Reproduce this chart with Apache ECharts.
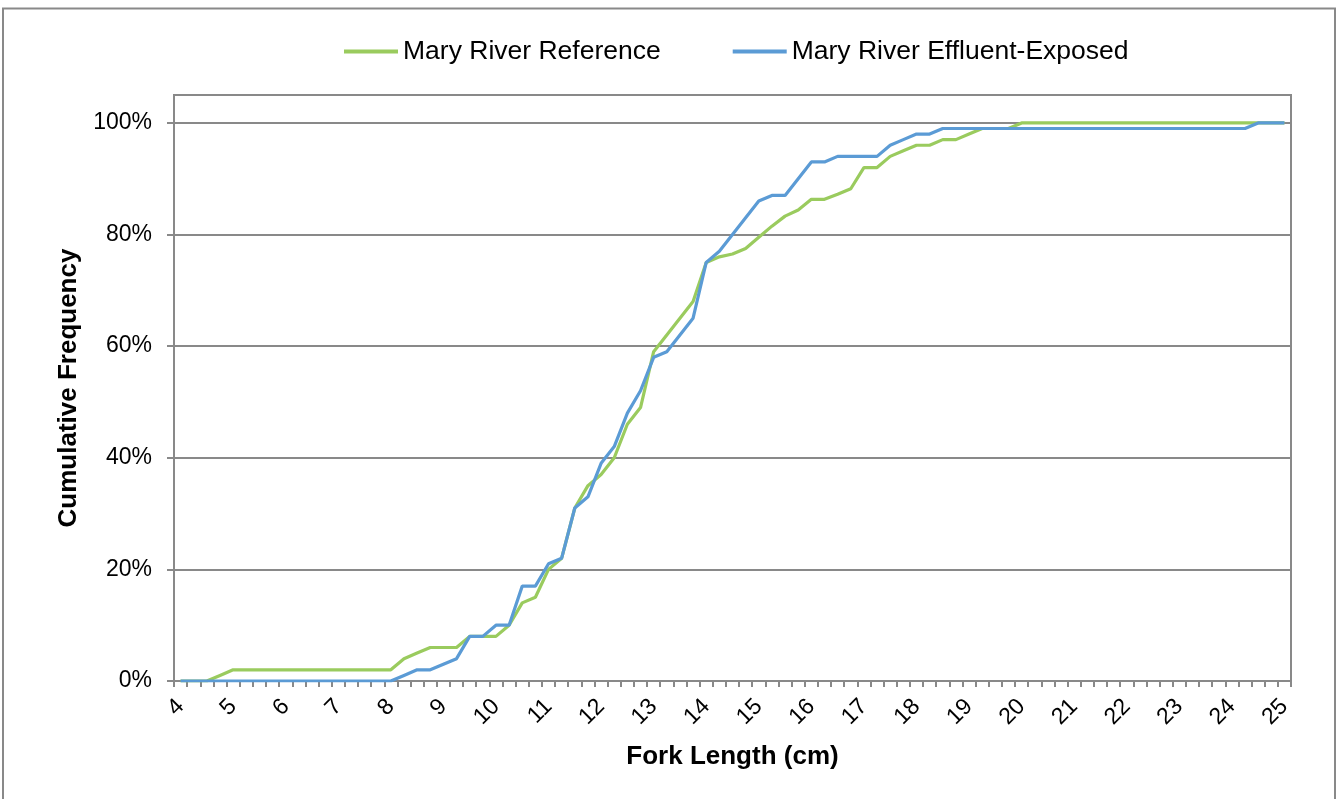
<!DOCTYPE html>
<html>
<head>
<meta charset="utf-8">
<script src="https://cdn.jsdelivr.net/npm/echarts@6/dist/echarts.min.js"></script>
<style>
html,body{margin:0;padding:0;background:#fff;}
#chart{width:1340px;height:799px;}
</style>
</head>
<body>
<div id="chart"></div>
<script>
// Fork length categories (cm)
const categories = [
  '4','4.25','4.5','4.75','5','5.25','5.5','5.75','6','6.25','6.5','6.75',
  '7','7.25','7.5','7.75','8','8.25','8.5','8.75','9','9.25','9.5','9.75',
  '10','10.25','10.5','10.75','11','11.25','11.5','11.75','12','12.25','12.5','12.75',
  '13','13.25','13.5','13.75','14','14.25','14.5','14.75','15','15.25','15.5','15.75',
  '16','16.25','16.5','16.75','17','17.25','17.5','17.75','18','18.25','18.5','18.75',
  '19','19.25','19.5','19.75','20','20.25','20.5','20.75','21','21.25','21.5','21.75',
  '22','22.25','22.5','22.75','23','23.25','23.5','23.75','24','24.25','24.5','24.75','25'
];

// Cumulative frequency (%) — Mary River Reference
const referenceValues = [
  0,0,0,1,2,2,2,2,2,2,2,2,
  2,2,2,2,2,4,5,6,6,6,8,8,
  8,10,14,15,20,22,31,35,37,40,46,49,
  59,62,65,68,75,76,76.5,77.5,79.5,81.5,83.3,84.4,
  86.3,86.3,87.2,88.2,92,92,94,95,96,96,97,97,
  98,99,99,99,100,100,100,100,100,100,100,100,
  100,100,100,100,100,100,100,100,100,100,100,100,100
];

// Cumulative frequency (%) — Mary River Effluent-Exposed
const exposedValues = [
  0,0,0,0,0,0,0,0,0,0,0,0,
  0,0,0,0,0,1,2,2,3,4,8,8,
  10,10,17,17,21,22,31,33,39,42,48,52,
  58,59,62,65,75,77,80,83,86,87,87,90,
  93,93,94,94,94,94,96,97,98,98,99,99,
  99,99,99,99,99,99,99,99,99,99,99,99,
  99,99,99,99,99,99,99,99,99,99,100,100,100
];

const yTicks = [0, 20, 40, 60, 80, 100];

const seriesNames = ['Mary River Reference', 'Mary River Effluent-Exposed'];

const FONT = '"Liberation Sans", Arial, sans-serif';
const GRAY = '#898989';

const chart = echarts.init(document.getElementById('chart'), null, {renderer: 'canvas'});
chart.setOption({
  animation: false,
  backgroundColor: '#fff',
  textStyle: {fontFamily: FONT},
  graphic: [{
    type: 'rect',
    shape: {x: 3, y: 8.5, width: 1332, height: 820},
    style: {fill: 'none', stroke: GRAY, lineWidth: 2},
    silent: true
  }],
  legend: {
    left: 344,
    top: 38,
    padding: 0,
    itemWidth: 54,
    itemHeight: 4,
    itemGap: 72,
    icon: 'rect',
    textStyle: {fontFamily: FONT, fontSize: 26.5, color: '#000', padding: [0, 0, 0, 0]},
    data: seriesNames
  },
  grid: {
    left: 174, right: 49, top: 95, bottom: 118,
    show: true, borderColor: GRAY, borderWidth: 2, containLabel: false
  },
  xAxis: {
    type: 'category',
    data: categories,
    boundaryGap: true,
    name: 'Fork Length (cm)',
    nameLocation: 'middle',
    nameGap: 63,
    nameTextStyle: {fontFamily: FONT, fontSize: 26, fontWeight: 'bold', color: '#000'},
    axisLine: {show: true, lineStyle: {color: GRAY, width: 2}},
    axisTick: {show: true, interval: 0, length: 6, lineStyle: {color: GRAY, width: 2}},
    axisLabel: {interval: 3, rotate: 45, fontSize: 23, color: '#000', margin: 22, fontFamily: FONT},
    splitLine: {show: false}
  },
  yAxis: {
    type: 'value',
    min: 0, max: 105, interval: 20,
    name: 'Cumulative Frequency',
    nameLocation: 'middle',
    nameGap: 90,
    nameRotate: 90,
    nameTextStyle: {fontFamily: FONT, fontSize: 26, fontWeight: 'bold', color: '#000'},
    axisLine: {show: true, lineStyle: {color: GRAY, width: 2}},
    axisTick: {show: true, length: 7, customValues: yTicks, lineStyle: {color: GRAY, width: 2}},
    axisLabel: {customValues: yTicks, fontSize: 23, color: '#000', margin: 22, fontFamily: FONT,
      formatter: v => v + '%'},
    splitLine: {show: true, lineStyle: {color: GRAY, width: 2}}
  },
  series: [
    {name: seriesNames[0], type: 'line', data: referenceValues, symbol: 'none',
     lineStyle: {color: '#9ACB5E', width: 3.2}, itemStyle: {color: '#9ACB5E'}, z: 2},
    {name: seriesNames[1], type: 'line', data: exposedValues, symbol: 'none',
     lineStyle: {color: '#5B9BD5', width: 3.2}, itemStyle: {color: '#5B9BD5'}, z: 3}
  ]
});
</script>
</body>
</html>
